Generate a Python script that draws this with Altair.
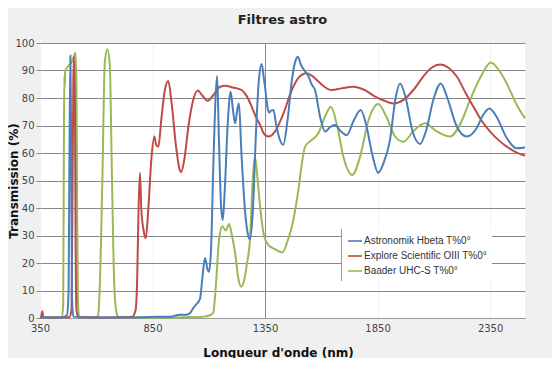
import altair as alt
import pandas as pd

SERIES = ["Astronomik Hbeta T%0°", "Explore Scientific OIII T%0°", "Baader UHC-S T%0°"]
COLORS = ["#4A7EBB", "#BE4B48", "#98B954"]

hb_wl = [350, 400, 450, 470, 477, 481, 485, 489, 492, 498, 550, 700, 800, 880, 930, 972, 1000, 1017,
         1030, 1045, 1061, 1072, 1083, 1095, 1101, 1110, 1120, 1130, 1137, 1145, 1155, 1162, 1170, 1185,
         1197, 1207, 1217, 1227, 1234, 1245, 1262, 1275, 1283, 1295, 1310, 1322, 1335, 1345, 1350, 1360,
         1368, 1378, 1387, 1400, 1415, 1431, 1450, 1470, 1485, 1495, 1510, 1525, 1542, 1557, 1572, 1595,
         1617, 1640, 1661, 1685, 1713, 1745, 1775, 1800, 1825, 1853, 1875, 1905, 1930, 1950, 1975, 2005,
         2039, 2065, 2100, 2131, 2160, 2200, 2246, 2290, 2320, 2347, 2380, 2420, 2469, 2505]
hb_t = [0.3, 0.2, 0.3, 1, 10, 60, 95.5, 60, 8, 0.5, 0.3, 0.2, 0.3, 0.5, 0.5, 1.2, 1.2, 1.8,
        3.5, 5, 7, 15, 21.8, 17.5, 16.8, 25, 55, 80, 88, 65, 40, 35.6, 45, 72,
        82.3, 76, 70.8, 76, 78, 60, 38, 30, 28.6, 38, 68, 86, 92.4, 87, 84, 77,
        74.7, 75.5, 75.6, 70, 65, 63, 72, 87, 93.5, 95, 92, 90, 88, 85, 82.9, 73,
        67.8, 69.5, 70.2, 68, 66.5, 72, 75.6, 70, 60, 52.8, 56, 64.7, 80, 85.3, 80, 68,
        63.3, 68, 80, 85.3, 80, 70, 66, 69, 74, 76.2, 73, 66, 61.7, 62]

oiii_wl = [350, 355, 360, 365, 400, 480, 490, 494, 498, 501, 505, 508, 512, 520, 600, 700, 760, 775,
           782, 788, 794, 800, 810, 820, 830, 845, 858, 866, 876, 890, 905, 920, 935, 955, 970, 977,
           990, 1010, 1030, 1051, 1070, 1095, 1120, 1150, 1175, 1202, 1225, 1246, 1270, 1291, 1310,
           1328, 1345, 1365, 1394, 1430, 1469, 1500, 1535, 1560, 1587, 1615, 1646, 1690, 1742, 1790,
           1839, 1880, 1920, 1965, 2010, 2053, 2090, 2128, 2165, 2202, 2240, 2276, 2310, 2350, 2390,
           2424, 2460, 2505]
oiii_t = [0, 0.3, 2.5, 0.3, 0.2, 0.3, 3, 40, 85, 95, 80, 30, 3, 0.3, 0.2, 0.3, 0.5, 3,
          15, 40, 52.8, 40, 32, 29, 38, 58, 66, 63, 62.3, 73, 83, 86.2, 78, 62, 54, 53,
          57, 70, 79, 82.7, 81, 79, 81, 84.1, 84.5, 83.9, 83.5, 82.9, 80.5, 76.8, 73,
          70.2, 67, 66, 67.8, 74, 82.9, 87.5, 89, 88, 86, 84, 82.9, 83.5, 84.1, 83,
          80.5, 79, 78, 79.3, 83, 87.8, 91, 92.2, 91, 87.8, 82, 76.8, 72, 67.8, 64.5,
          62.3, 60.5, 59]

uhc_wl = [350, 440, 448, 453, 456, 458, 460, 462, 470, 480, 490, 500, 508, 512, 515, 519, 525, 600,
          608, 615, 627, 638, 649, 660, 670, 680, 690, 700, 800, 900, 1000, 1080, 1105, 1120, 1128,
          1135, 1145, 1160, 1175, 1190, 1203, 1217, 1230, 1243, 1258, 1270, 1283, 1295, 1305, 1315,
          1328, 1345, 1365, 1395, 1427, 1450, 1469, 1498, 1515, 1528, 1557, 1587, 1615, 1643, 1670,
          1700, 1738, 1770, 1810, 1853, 1890, 1928, 1965, 2010, 2061, 2110, 2172, 2220, 2261, 2310,
          2353, 2390, 2424, 2465, 2505]
uhc_t = [0.2, 0.3, 0.3, 5, 60, 88, 84, 90, 91, 92, 93, 95, 96.5, 85, 40, 5, 0.3, 0.3,
         1, 10, 50, 93, 97.7, 92, 50, 12, 2, 0.3, 0.2, 0.2, 0.3, 0.5, 1, 2, 8,
         16, 28, 33.4, 31.8, 34.2, 30, 23.6, 15, 11.4, 14, 20, 28.4, 50, 58.7, 52,
         40.5, 30, 26.5, 25, 23.8, 28, 33.2, 46.5, 57, 62.3, 64.7, 67.2, 73, 76.8, 70,
         58, 52, 58, 72, 77.8, 73, 66, 64.1, 68, 70.8, 68, 66, 71, 79.3, 88,
         92.9, 90, 85.3, 78, 72.6]

rows = []
for name, wl, t in [(SERIES[2], uhc_wl, uhc_t), (SERIES[1], oiii_wl, oiii_t), (SERIES[0], hb_wl, hb_t)]:
    for w, v in zip(wl, t):
        rows.append({"serie": name, "wl": w, "t": v})
df = pd.DataFrame(rows)

FONT = "DejaVu Sans"

lines = alt.Chart(df).mark_line(strokeWidth=2, interpolate="monotone").encode(
    x=alt.X("wl:Q",
            scale=alt.Scale(domain=[350, 2505], nice=False, zero=False),
            axis=alt.Axis(values=[350, 850, 1350, 1850, 2350], title="Longueur d'onde (nm)",
                          format="d", ticks=False, labelPadding=5, labelFlush=False,
                          domain=True, domainColor="#9a9a9a",
                          grid=True, gridColor="#888888",
                          gridOpacity={"condition": {"test": "datum.value === 1350", "value": 1}, "value": 0.12},
                          titleX=238, titleY=34, titleBaseline="middle")),
    y=alt.Y("t:Q",
            scale=alt.Scale(domain=[0, 100], nice=False),
            axis=alt.Axis(values=list(range(0, 101, 10)), title="Transmission (%)",
                          tickSize=4, tickColor="#888888", labelPadding=2, domain=False,
                          grid=True, gridColor="#888888",
                          titleX=-27, titleY=137.5, titleAngle=-90, titleBaseline="middle", titleAlign="center")),
    color=alt.Color("serie:N", sort=SERIES,
                    scale=alt.Scale(domain=SERIES, range=COLORS),
                    legend=alt.Legend(title=None, orient="none", legendX=302, legendY=185,
                                      fillColor="white", padding=5, symbolType="stroke",
                                      symbolSize=196, symbolStrokeWidth=1.6, rowPadding=2,
                                      labelFont="Liberation Sans", labelFontSize=10, labelColor="#333333",
                                      labelOffset=1)),
)

border = alt.Chart(pd.DataFrame({"a": [0]})).mark_rule(color="#9a9a9a", strokeWidth=1).encode(
    x=alt.value(301.5), y=alt.value(186), y2=alt.value(238)
)

chart = alt.layer(border, lines).properties(
    width=485, height=275,
    title=alt.TitleParams("Filtres astro", fontSize=13, font=FONT, fontWeight="bold",
                          color="#222222", offset=11, anchor="middle"),
    autosize=alt.AutoSizeParams(type="none"),
    padding={"left": 32, "top": 35, "right": 27, "bottom": 40},
    background="#f0f0f0",
).configure_view(fill="white", stroke=None).configure_axis(
    labelFont=FONT, labelFontSize=10, labelColor="#444444",
    titleFont=FONT, titleFontSize=12, titleFontWeight="bold", titleColor="#111111",
)

chart.save("out.html", embed_options={"renderer": "svg", "actions": False})
